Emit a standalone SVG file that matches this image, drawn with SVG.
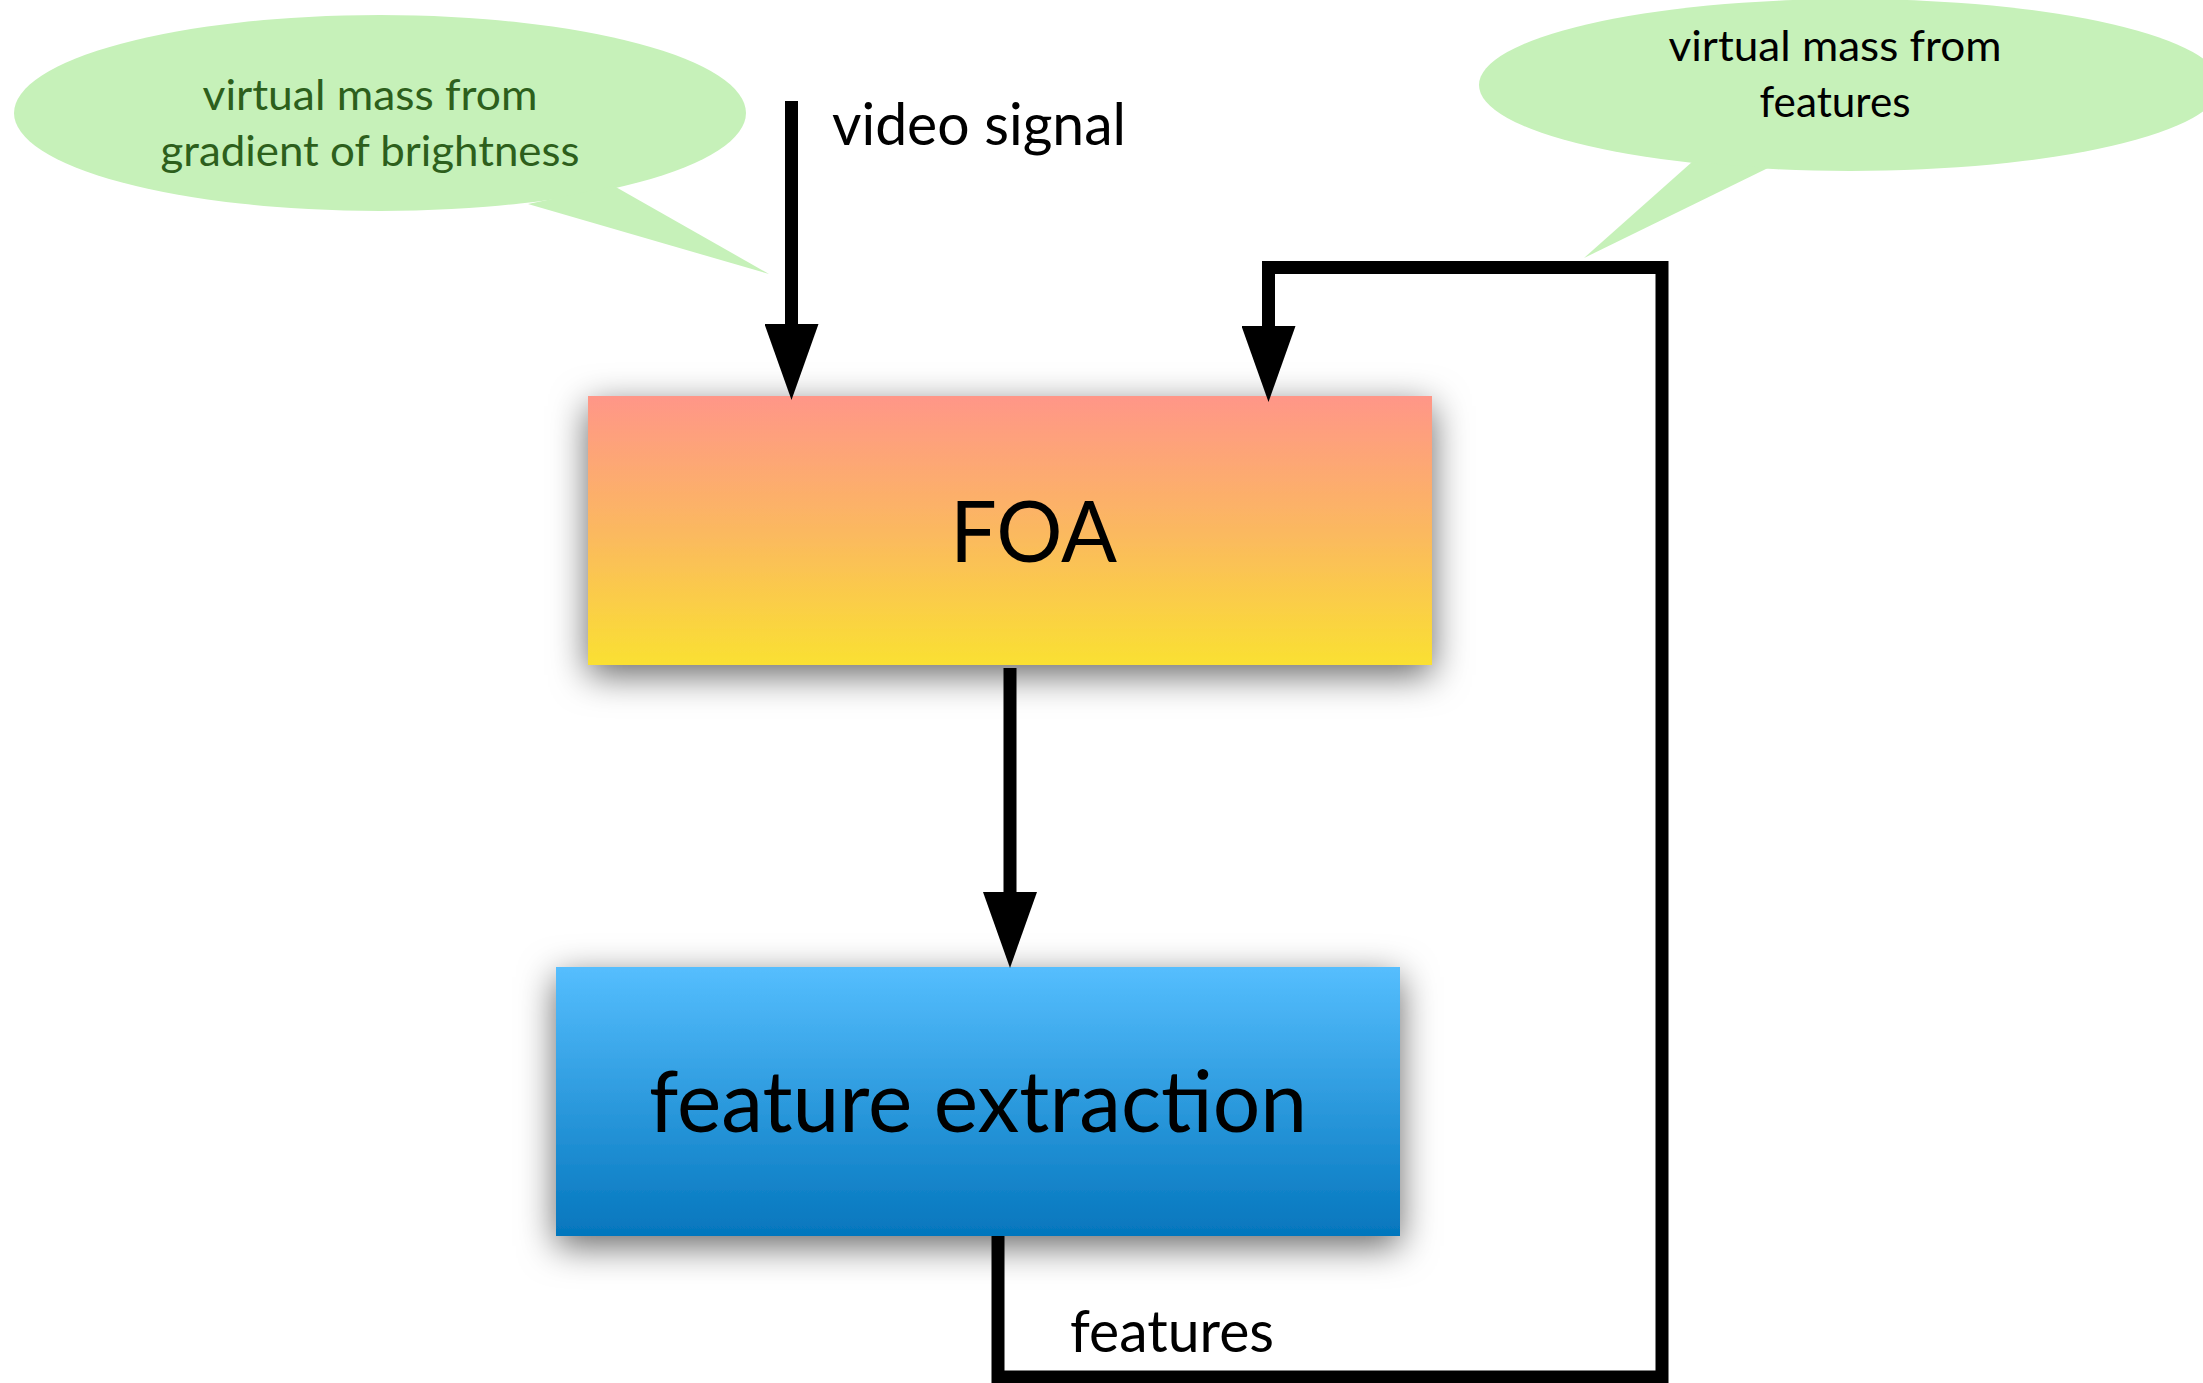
<svg xmlns="http://www.w3.org/2000/svg" width="2203" height="1383" viewBox="0 0 2203 1383">
  <defs>
    <linearGradient id="gradFoa" x1="0" y1="0" x2="0" y2="1">
      <stop offset="0" stop-color="#ff9688"/>
      <stop offset="0.5" stop-color="#fbb860"/>
      <stop offset="1" stop-color="#fae032"/>
    </linearGradient>
    <linearGradient id="gradFeat" x1="0" y1="0" x2="0" y2="1">
      <stop offset="0" stop-color="#55befe"/>
      <stop offset="1" stop-color="#0476bd"/>
    </linearGradient>
    <filter id="shadow" x="-20%" y="-30%" width="140%" height="160%">
      <feDropShadow dx="0" dy="10" stdDeviation="18" flood-color="#000" flood-opacity="0.6"/>
    </filter>
    <marker id="head" markerUnits="userSpaceOnUse" markerWidth="76" markerHeight="54" refX="0" refY="27" orient="auto" viewBox="0 0 76 54">
      <path d="M0,0 L76,27 L0,54 Z" fill="#000"/>
    </marker>
  </defs>
  <style>
    .lbl { font-family: Lato, "Open Sans", "Liberation Sans", sans-serif; }
    .bubble { fill: #c6f1b9; }
    .wire { fill: none; stroke: #000; stroke-width: 13; stroke-linejoin: miter; stroke-linecap: butt; }
  </style>

  <!-- callout bubbles -->
  <g id="note-brightness">
    <ellipse class="bubble" cx="380" cy="113" rx="366" ry="98"/>
    <polygon class="bubble" points="528,204 769,274 614,186"/>
    <text class="lbl" x="370" y="110" font-size="42" fill="#2d5f1c" text-anchor="middle" textLength="335" lengthAdjust="spacingAndGlyphs">virtual mass from</text>
    <text class="lbl" x="370" y="166" font-size="42" fill="#2d5f1c" text-anchor="middle" textLength="419" lengthAdjust="spacingAndGlyphs">gradient of brightness</text>
  </g>
  <g id="note-features">
    <ellipse class="bubble" cx="1850" cy="85" rx="371" ry="86"/>
    <polygon class="bubble" points="1692,162 1584,258 1768,168"/>
    <text class="lbl" x="1835" y="61" font-size="42" fill="#000" text-anchor="middle" textLength="333" lengthAdjust="spacingAndGlyphs">virtual mass from</text>
    <text class="lbl" x="1835" y="117" font-size="42" fill="#000" text-anchor="middle" textLength="151" lengthAdjust="spacingAndGlyphs">features</text>
  </g>

  <!-- processing blocks -->
  <g id="foa">
    <rect x="588" y="396" width="844" height="269" fill="url(#gradFoa)" filter="url(#shadow)"/>
    <text class="lbl" x="950" y="562" font-size="86" fill="#000" textLength="167" lengthAdjust="spacingAndGlyphs">FOA</text>
  </g>
  <g id="feature-extraction">
    <rect x="556" y="967" width="844" height="269" fill="url(#gradFeat)" filter="url(#shadow)"/>
    <text class="lbl" x="649" y="1132" font-size="86" fill="#000" textLength="658" lengthAdjust="spacingAndGlyphs">feature extraction</text>
  </g>

  <!-- connectors -->
  <g id="connectors">
    <path class="wire" d="M791.5,101 V324" marker-end="url(#head)"/>
    <path class="wire" d="M1010,668 V892" marker-end="url(#head)"/>
    <path class="wire" d="M998,1236 V1377 H1662 V267.5 H1268.5 V326" marker-end="url(#head)"/>
    <text class="lbl" x="832" y="145" font-size="58" fill="#000" textLength="294" lengthAdjust="spacingAndGlyphs">video signal</text>
    <text class="lbl" x="1070" y="1352" font-size="58" fill="#000" textLength="204" lengthAdjust="spacingAndGlyphs">features</text>
  </g>
</svg>
